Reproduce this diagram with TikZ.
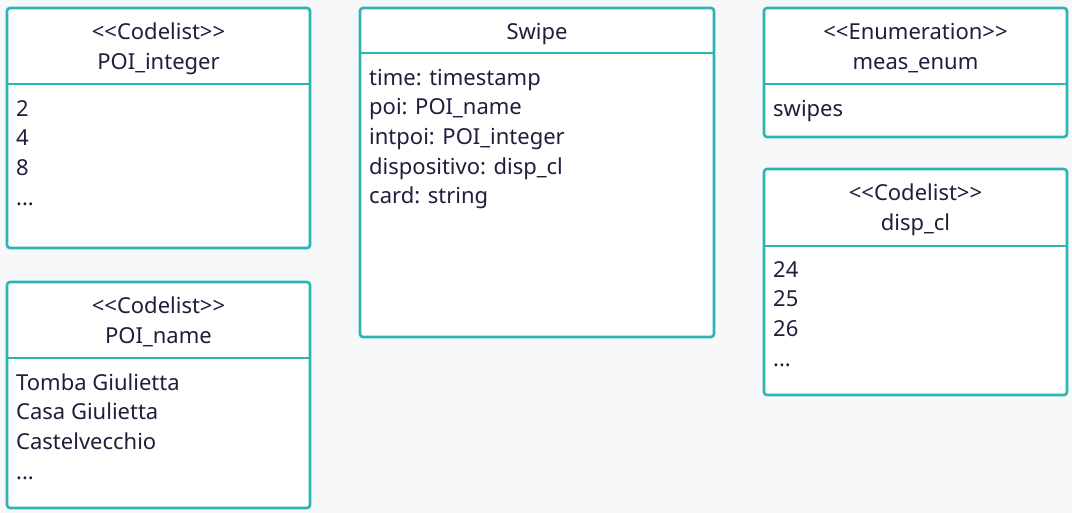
\documentclass[tikz,border=0pt]{standalone}
\usepackage{fontspec}
\setmainfont{Noto Sans}[Ligatures=TeXOff]
\usetikzlibrary{positioning}

\definecolor{umlteal}{HTML}{2CB4B1}
\definecolor{umlink}{HTML}{1E1F3B}
\definecolor{umlbg}{HTML}{F7F8FA}

\tikzset{
  classbox/.style={draw=umlteal, line width=2.6pt, rounded corners=3pt, fill=white, anchor=north west, inner sep=0pt, outer sep=0pt},
  headtxt/.style={anchor=base, inner sep=0pt, font=\fontsize{22}{30}\selectfont, text=umlink},
  bodytxt/.style={anchor=north west, align=left, inner sep=0pt, font=\fontsize{22}{29.7}\selectfont, text=umlink},
  divider/.style={draw=umlteal, line width=2.6pt}
}
\newcommand{\topstrut}{\rule{0pt}{17pt}}

\begin{document}
\begin{tikzpicture}
    \fill[umlbg] (0pt,0pt) rectangle (1072pt,-513pt);
    \useasboundingbox (0pt,0pt) rectangle (1072pt,-513pt);

    % Boxes
    \node (POIint) [classbox, minimum width=303pt, minimum height=240pt] at (7pt,-8pt) {};
    \node (POIname) [classbox, minimum width=303pt, minimum height=226pt, below=34pt of POIint.south west, anchor=north west] {};
    \node (Swipe) [classbox, minimum width=354pt, minimum height=329pt, right=50pt of POIint.north east, anchor=north west] {};
    \node (MeasEnum) [classbox, minimum width=303pt, minimum height=129pt, right=50pt of Swipe.north east, anchor=north west] {};
    \node (DispCl) [classbox, minimum width=303pt, minimum height=226pt, below=32pt of MeasEnum.south west, anchor=north west] {};

    % Dividers
    \draw[divider] ([yshift=-76pt]POIint.north west) -- ([yshift=-76pt]POIint.north east);
    \draw[divider] ([yshift=-76pt]POIname.north west) -- ([yshift=-76pt]POIname.north east);
    \draw[divider] ([yshift=-45pt]Swipe.north west) -- ([yshift=-45pt]Swipe.north east);
    \draw[divider] ([yshift=-76pt]MeasEnum.north west) -- ([yshift=-76pt]MeasEnum.north east);
    \draw[divider] ([yshift=-77pt]DispCl.north west) -- ([yshift=-77pt]DispCl.north east);

    % Headers
    \node (POIintStereo) [headtxt, below=32pt of POIint.north, anchor=base] {<<Codelist>>};
    \node (POIintName) [headtxt, below=62pt of POIint.north, anchor=base] {POI\_integer};
    \node (POInameStereo) [headtxt, below=32pt of POIname.north, anchor=base] {<<Codelist>>};
    \node (POInameName) [headtxt, below=62pt of POIname.north, anchor=base] {POI\_name};
    \node (SwipeName) [headtxt, below=32pt of Swipe.north, anchor=base] {Swipe};
    \node (MeasEnumStereo) [headtxt, below=32pt of MeasEnum.north, anchor=base] {<<Enumeration>>};
    \node (MeasEnumName) [headtxt, below=62pt of MeasEnum.north, anchor=base] {meas\_enum};
    \node (DispClStereo) [headtxt, below=32pt of DispCl.north, anchor=base] {<<Codelist>>};
    \node (DispClName) [headtxt, below=62pt of DispCl.north, anchor=base] {disp\_cl};

    % Values and attributes
    \node (POIintBody) [bodytxt] at ([xshift=9pt,yshift=-91pt]POIint.north west) {\topstrut 2\\4\\8\\...};
    \node (POInameBody) [bodytxt] at ([xshift=9pt,yshift=-91pt]POIname.north west) {\topstrut Tomba Giulietta\\Casa Giulietta\\Castelvecchio\\...};
    \node (SwipeBody) [bodytxt] at ([xshift=9pt,yshift=-60pt]Swipe.north west) {\topstrut time: timestamp\\poi: POI\_name\\intpoi: POI\_integer\\dispositivo: disp\_cl\\card: string};
    \node (MeasEnumBody) [bodytxt] at ([xshift=9pt,yshift=-91pt]MeasEnum.north west) {\topstrut swipes};
    \node (DispClBody) [bodytxt] at ([xshift=9pt,yshift=-91pt]DispCl.north west) {\topstrut 24\\25\\26\\...};
\end{tikzpicture}
\end{document}
